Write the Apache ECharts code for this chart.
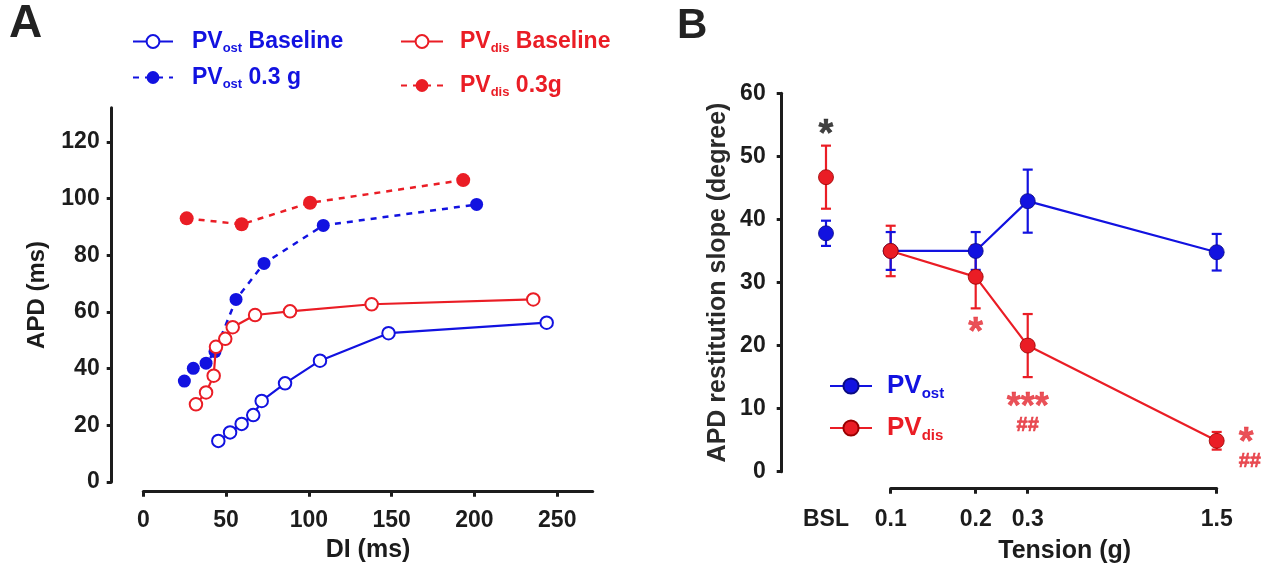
<!DOCTYPE html>
<html><head><meta charset="utf-8">
<script src="https://cdn.jsdelivr.net/npm/echarts@6/dist/echarts.min.js"></script>
<style>html,body{margin:0;padding:0;background:#fff}#c{width:1271px;height:574px}</style>
</head><body><div id="c"></div>
<script>
// ---------- Panel A : APD (ms) vs DI (ms) ----------
const ostBaseDI  = [45.3, 52.4, 59.4, 66.4, 71.5, 85.6, 106.7, 148.1, 243.6];
const ostBaseAPD = [14.5, 17.5, 20.5, 23.6, 28.6, 34.8, 42.8, 52.5, 56.2];
const ostTenDI   = [24.8, 30.2, 37.9, 43.3, 56.0, 72.9, 108.7, 201.3];
const ostTenAPD  = [35.6, 40.1, 41.9, 46.0, 64.4, 77.1, 90.5, 97.9];
const disBaseDI  = [31.8, 37.9, 42.5, 43.9, 49.5, 54.0, 67.5, 88.6, 137.9, 235.5];
const disBaseAPD = [27.4, 31.6, 37.5, 47.7, 50.5, 54.6, 58.9, 60.2, 62.7, 64.4];
const disTenDI   = [26.2, 59.4, 100.7, 193.2];
const disTenAPD  = [93.0, 90.9, 98.5, 106.5];
const diTicks  = [0, 50, 100, 150, 200, 250];
const apdTicks = [0, 20, 40, 60, 80, 100, 120];

// ---------- Panel B : APD restitution slope vs tension ----------
const tensionLabels  = ['BSL', '0.1', '0.2', '0.3', '1.5'];
const tensionAxisPos = [-0.761, 0, 1, 1.612, 3.835];   // irregular (ordinal) axis scale
const ostSlope = [37.8, 35.0, 35.0, 42.9, 34.8];
const ostSEM   = [2.0, 3.0, 3.0, 5.0, 2.9];
const disSlope = [46.7, 35.0, 30.9, 20.0, 4.9];
const disSEM   = [5.0, 4.0, 5.0, 5.0, 1.4];
const slopeTicks = [0, 10, 20, 30, 40, 50, 60];
const annotations = [
  {at: 'BSL', y: 53.3, text: '*',   tone: 'black'},
  {at: '0.2', y: 21.9, text: '*',   tone: 'red'},
  {at: '0.3', y: 10.1, text: '***', tone: 'red'},
  {at: '0.3', y: 7.4,  text: '##',  tone: 'red'},
  {at: '1.5', y: 4.4,  text: '*',   tone: 'red', side: 'right'},
  {at: '1.5', y: 1.6,  text: '##',  tone: 'red', side: 'right'}
];

const BLUE = '#1212e0', RED = '#ea1d25', INK = '#1c1c1c';
const FONT = 'Liberation Sans, Arial, sans-serif';
const pairs = (xs, ys) => xs.map((x, i) => [x, ys[i]]);
const posOf = lab => tensionAxisPos[tensionLabels.indexOf(lab)];

const chart = echarts.init(document.getElementById('c'), null, {renderer: 'canvas'});

const tickLabel = {fontSize: 23, fontWeight: 'bold', color: INK, fontFamily: FONT};
const axisLine = {show: true, onZero: false, lineStyle: {color: INK, width: 3}};
const axisTick = {show: true, length: 5, lineStyle: {color: INK, width: 3}};

function legendFmt(n) {
  const m = n.match(/^PV(ost|dis)(.*)$/);
  const c = m[1] === 'ost' ? 'b' : 'r';
  return '{m' + c + '|PV}{s' + c + '|' + m[1] + '}' + (m[2] ? '{m' + c + '|' + m[2] + '}' : '');
}
function richFor(big, small) {
  const r = {};
  [['b', BLUE], ['r', RED]].forEach(([k, col]) => {
    r['m' + k] = {fontSize: big, fontWeight: 'bold', color: col, fontFamily: FONT, lineHeight: big + 4};
    r['s' + k] = {fontSize: small, fontWeight: 'bold', color: col, fontFamily: FONT, lineHeight: small, verticalAlign: 'bottom'};
  });
  return r;
}

function errSeries(means, sems, color, z) {
  return {
    type: 'custom', xAxisIndex: 1, yAxisIndex: 1, z: z, silent: true, clip: false,
    data: tensionAxisPos.map((p, i) => [p, means[i] - sems[i], means[i] + sems[i]]),
    encode: {x: 0, y: [1, 2]},
    renderItem: function (params, api) {
      const lo = api.coord([api.value(0), api.value(1)]);
      const hi = api.coord([api.value(0), api.value(2)]);
      const w = 5;
      const st = {stroke: color, lineWidth: 2.2};
      return {type: 'group', children: [
        {type: 'line', shape: {x1: lo[0], y1: lo[1], x2: hi[0], y2: hi[1]}, style: st},
        {type: 'line', shape: {x1: lo[0] - w, y1: lo[1], x2: lo[0] + w, y2: lo[1]}, style: st},
        {type: 'line', shape: {x1: hi[0] - w, y1: hi[1], x2: hi[0] + w, y2: hi[1]}, style: st}
      ]};
    }
  };
}

const option = {
  animation: false,
  backgroundColor: '#fff',
  textStyle: {fontFamily: FONT},
  title: [
    {text: 'A', left: 9, top: 1, padding: 0, textStyle: {fontSize: 46, fontWeight: 'bold', color: '#222', fontFamily: FONT}},
    {text: 'B', left: 677, top: 5, padding: 0, textStyle: {fontSize: 42, fontWeight: 'bold', color: '#222', fontFamily: FONT}}
  ],
  legend: [
    {data: ['PVost Baseline', 'PVost 0.3 g'], orient: 'vertical', left: 132, top: 30, padding: 0,
     itemWidth: 40, itemHeight: 16, itemGap: 11, formatter: legendFmt, selectedMode: false,
     textStyle: {padding: [0, 0, 0, 14], rich: richFor(23, 13)}},
    {data: ['PVdis Baseline', 'PVdis 0.3g'], orient: 'vertical', left: 400, top: 30, padding: 0,
     itemWidth: 42, itemHeight: 16, itemGap: 19, formatter: legendFmt, selectedMode: false,
     textStyle: {padding: [0, 0, 0, 12], rich: richFor(23, 13)}},
    {data: ['PVost', 'PVdis'], orient: 'vertical', left: 829, top: 373, padding: 0,
     itemWidth: 42, itemHeight: 19, itemGap: 14, formatter: legendFmt, selectedMode: false,
     textStyle: {padding: [0, 0, 0, 10], rich: richFor(26, 15)}}
  ],
  grid: [
    {left: 143.3, top: 107.8, width: 449.4, height: 374.2, outerBoundsMode: 'none', containLabel: false},
    {left: 781.7, top: 93.3, width: 435, height: 378.4, outerBoundsMode: 'none', containLabel: false},
    {left: 890.7, top: 93.3, width: 326, height: 378.4, outerBoundsMode: 'none', containLabel: false}
  ],
  xAxis: [
    {type: 'value', gridIndex: 0, min: 0, max: 271.4, offset: 9.7,
     axisLine: axisLine, axisTick: Object.assign({customValues: diTicks}, axisTick),
     axisLabel: Object.assign({customValues: diTicks, margin: 17}, tickLabel),
     splitLine: {show: false},
     name: 'DI (ms)', nameLocation: 'middle', nameGap: 46,
     nameTextStyle: {fontSize: 25, fontWeight: 'bold', color: INK, fontFamily: FONT}},
    {type: 'value', gridIndex: 1, min: -1.282, max: 3.835, offset: 17,
     axisLine: {show: false, onZero: false}, axisTick: {show: false}, splitLine: {show: false},
     axisLabel: Object.assign({customValues: tensionAxisPos, margin: 19,
       formatter: v => tensionLabels[tensionAxisPos.findIndex(p => Math.abs(p - v) < 1e-6)] || ''}, tickLabel)},
    {type: 'value', gridIndex: 2, min: 0, max: 3.835, offset: 17,
     axisLine: axisLine, axisTick: Object.assign({customValues: tensionAxisPos.slice(1)}, axisTick),
     axisLabel: {show: false}, splitLine: {show: false},
     name: 'Tension (g)', nameLocation: 'middle', nameGap: 50,
     nameTextStyle: {fontSize: 25, fontWeight: 'bold', color: INK, fontFamily: FONT, padding: [0, 0, 0, 22]}}
  ],
  yAxis: [
    {type: 'value', gridIndex: 0, min: 0, max: 132, offset: 31.6,
     axisLine: axisLine, axisTick: Object.assign({customValues: apdTicks}, axisTick),
     axisLabel: Object.assign({customValues: apdTicks, margin: 12}, tickLabel),
     splitLine: {show: false},
     name: 'APD (ms)', nameLocation: 'middle', nameGap: 62,
     nameTextStyle: {fontSize: 24, fontWeight: 'bold', color: INK, fontFamily: FONT}},
    {type: 'value', gridIndex: 1, min: 0, max: 60, interval: 10,
     axisLine: axisLine, axisTick: Object.assign({customValues: slopeTicks}, axisTick),
     axisLabel: Object.assign({customValues: slopeTicks, margin: 16}, tickLabel),
     splitLine: {show: false},
     name: 'APD restitution slope (degree)', nameLocation: 'middle', nameGap: 51,
     nameTextStyle: {fontSize: 25, fontWeight: 'bold', color: '#2a2a2a', fontFamily: FONT}},
    {type: 'value', gridIndex: 2, min: 0, max: 60, show: false}
  ],
  series: [
    // Panel A
    {name: 'PVost Baseline', type: 'line', xAxisIndex: 0, yAxisIndex: 0, z: 2,
     data: pairs(ostBaseDI, ostBaseAPD), symbol: 'emptyCircle', symbolSize: 12.5,
     itemStyle: {color: BLUE, borderWidth: 1.6}, lineStyle: {color: BLUE, width: 2.2}},
    {name: 'PVost 0.3 g', type: 'line', xAxisIndex: 0, yAxisIndex: 0, z: 3,
     data: pairs(ostTenDI, ostTenAPD), symbol: 'circle', symbolSize: 13,
     itemStyle: {color: BLUE}, lineStyle: {color: BLUE, width: 2.5, type: [6, 6]}},
    {name: 'PVdis 0.3g', type: 'line', xAxisIndex: 0, yAxisIndex: 0, z: 4,
     data: pairs(disTenDI, disTenAPD), symbol: 'circle', symbolSize: 14,
     itemStyle: {color: RED}, lineStyle: {color: RED, width: 2.5, type: [6, 6]}},
    {name: 'PVdis Baseline', type: 'line', xAxisIndex: 0, yAxisIndex: 0, z: 5,
     data: pairs(disBaseDI, disBaseAPD), symbol: 'emptyCircle', symbolSize: 12.5,
     itemStyle: {color: RED, borderWidth: 1.6}, lineStyle: {color: RED, width: 2.2}},
    // Panel B
    errSeries(disSlope, disSEM, RED, 6),
    errSeries(ostSlope, ostSEM, BLUE, 7),
    {name: 'PVost', type: 'line', xAxisIndex: 1, yAxisIndex: 1, z: 8,
     data: pairs(tensionAxisPos.slice(1), ostSlope.slice(1)), symbol: 'circle', symbolSize: 15,
     itemStyle: {color: BLUE, borderColor: '#0a0a80', borderWidth: 0.8, opacity: 1}, lineStyle: {color: BLUE, width: 2.2}},
    {name: 'PVost BSL', type: 'scatter', xAxisIndex: 1, yAxisIndex: 1, z: 8,
     data: [[tensionAxisPos[0], ostSlope[0]]], symbol: 'circle', symbolSize: 15,
     itemStyle: {color: BLUE, borderColor: '#0a0a80', borderWidth: 0.8, opacity: 1}},
    {name: 'PVdis', type: 'line', xAxisIndex: 1, yAxisIndex: 1, z: 9,
     data: pairs(tensionAxisPos.slice(1), disSlope.slice(1)), symbol: 'circle', symbolSize: 15,
     itemStyle: {color: RED, borderColor: '#900', borderWidth: 0.8, opacity: 1}, lineStyle: {color: RED, width: 2.2}},
    {name: 'PVdis BSL', type: 'scatter', xAxisIndex: 1, yAxisIndex: 1, z: 9,
     data: [[tensionAxisPos[0], disSlope[0]]], symbol: 'circle', symbolSize: 15,
     itemStyle: {color: RED, borderColor: '#900', borderWidth: 0.8, opacity: 1}},
    {name: 'stats', type: 'scatter', xAxisIndex: 1, yAxisIndex: 1, z: 10, clip: false, silent: true,
     symbolSize: 0, itemStyle: {color: 'transparent'},
     data: annotations.map(a => {
       const col = a.tone === 'black' ? '#111' : '#e3262e';
       const hash = a.text.indexOf('#') >= 0;
       const multi = a.text.length > 1 && !hash;
       return {
         value: [posOf(a.at), a.y],
         label: {show: true, formatter: a.text,
           position: a.side ? 'right' : 'inside', distance: 22,
           color: col, textBorderColor: col, textBorderWidth: hash ? 0.6 : 0.5,
           fontSize: hash ? 20 : (multi ? 36 : 38), fontWeight: 'bold', fontFamily: FONT}
       };
     })}
  ]
};
chart.setOption(option);
</script>
</body></html>
